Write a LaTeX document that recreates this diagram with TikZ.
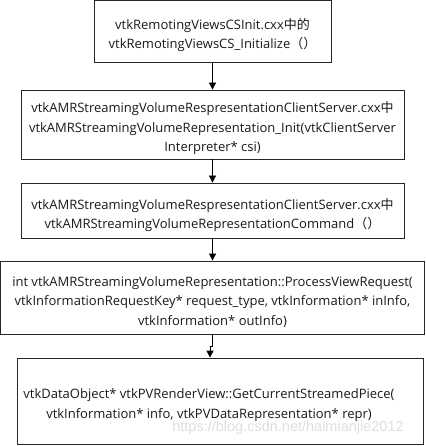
\documentclass[tikz,border=0pt]{standalone}
\usepackage{fontspec}
\setmainfont{Open Sans}
\newfontfamily\cjk{Noto Sans CJK SC}
\newfontfamily\wmfont{Liberation Sans}
\usetikzlibrary{arrows.meta}
\begin{document}
\begin{tikzpicture}[x=1pt,y=-1pt,
  box/.style={draw=black!85,line width=0.8pt,inner sep=0pt},
  code/.style={align=center,inner sep=0pt,font=\fontsize{13}{19.5}\selectfont,text=black!90},
  link/.style={draw=black,line width=0.8pt,-{Triangle[length=7pt,width=7pt]}},
  watermark/.style={font=\wmfont\fontsize{14.5}{14.5}\selectfont,text=black!13},
]
\useasboundingbox (0,0) rectangle (425,446);
% frames
\node[box,minimum width=237pt,minimum height=62pt] (csinit) at (212.5,31.5) {};
\node[box,minimum width=383pt,minimum height=69pt] (clinit) at (212.5,124.5) {};
\node[box,minimum width=383pt,minimum height=55pt] (command) at (212.5,210.5) {};
\node[box,minimum width=424pt,minimum height=73pt] (request) at (212.5,297.5) {};
\node[box,minimum width=406pt,minimum height=86pt] (piece) at (220,401) {};
% texts
\node[code] (csinittext) at (212.5,35)
  {vtkRemotingViewsCSInit.cxx{\cjk 中的}\\vtkRemotingViewsCS\_Initialize{\cjk （）}};
\node[code] (clinittext) at (212.5,128.5)
  {vtkAMRStreamingVolumeRespresentationClientServer.cxx{\cjk 中}\\
   vtkAMRStreamingVolumeRepresentation\_Init(vtkClientServer\\Interpreter* csi)};
\node[code] (commandtext) at (212.5,215)
  {vtkAMRStreamingVolumeRespresentationClientServer.cxx{\cjk 中}\\
   vtkAMRStreamingVolumeRepresentationCommand{\cjk （）}};
\node[code] (requesttext) at (212.5,302)
  {int vtkAMRStreamingVolumeRepresentation::ProcessViewRequest(\\
   vtkInformationRequestKey* request\_type, vtkInformation* inInfo,\\
   vtkInformation* outInfo)};
\node[code] (piecetext) at (209,405)
  {vtkDataObject* vtkPVRenderView::GetCurrentStreamedPiece(\\
   vtkInformation* info, vtkPVDataRepresentation* repr)};
\node[watermark] (csdn) at (288,428) {https://blog.csdn.net/haimianjie2012};
% arrows
\draw[link] (csinit) -- (clinit);
\draw[link] (clinit) -- (command);
\draw[link] (command.south) -- (command.south |- request.north);
\draw[link] (request.south) -- ++(0,12) -| ([xshift=-10pt]piece.north);
\end{tikzpicture}
\end{document}
